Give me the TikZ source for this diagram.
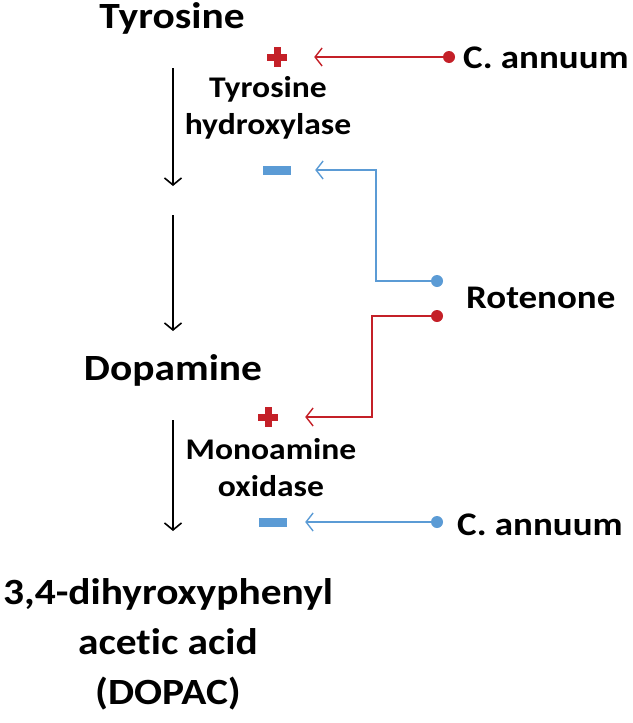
\documentclass[tikz,border=0pt]{standalone}
\usepackage{fontspec}
\setmainfont[FakeStretch=1.12, Ligatures=NoCommon]{Carlito}
\usetikzlibrary{arrows.meta}
\definecolor{cred}{RGB}{196,32,40}
\definecolor{cblue}{RGB}{91,155,213}
\tikzset{
  bigtxt/.style={font=\bfseries\fontsize{37}{50}\selectfont, align=center, inner sep=0pt, anchor=base},
  smalltxt/.style={font=\bfseries\fontsize{30}{37}\selectfont, align=center, inner sep=0pt, anchor=base},
  sidetxt/.style={font=\bfseries\fontsize{33}{40}\selectfont, inner sep=0pt, anchor=base west},
  pathway/.style={draw=black, line width=1.6pt, -{Straight Barb[length=7pt,width=17pt,line width=1.6pt]}},
  regarrow/.style={line width=1.4pt, -{Straight Barb[length=7pt,width=18pt,line width=1.4pt]}},
  dotnode/.style={circle, fill=#1, minimum size=12pt, inner sep=0pt},
  plussign/.style={minimum width=20pt, minimum height=20pt, inner sep=0pt,
    path picture={
      \fill[cred] ([xshift=-10pt,yshift=-3.5pt]path picture bounding box.center) rectangle ++(20pt,7pt);
      \fill[cred] ([xshift=-3.5pt,yshift=-10pt]path picture bounding box.center) rectangle ++(7pt,20pt);
    }},
  minussign/.style={fill=cblue, minimum width=28pt, minimum height=9pt, inner sep=0pt}
}
\begin{document}
\begin{tikzpicture}[x=1pt,y=-1pt]
\useasboundingbox (0,0) rectangle (632,723);
% metabolites
\node[bigtxt] (tyr) at (172,28) {Tyrosine};
\node[bigtxt] (dop) at (173,380) {Dopamine};
\node[bigtxt, anchor=north] (dopac) at (168,578) {3,4-dihyroxyphenyl\\acetic acid\\(DOPAC)};
% enzymes
\node[smalltxt, anchor=north] (th) at (268,76) {Tyrosine\\hydroxylase};
\node[smalltxt, anchor=north] (mao) at (271,438) {Monoamine\\oxidase};
% pathway arrows
\coordinate (a1s) at (173,68);  \coordinate (a1e) at (173,186);
\coordinate (a2s) at (173,215); \coordinate (a2e) at (173,331);
\coordinate (a3s) at (173,420); \coordinate (a3e) at (173,531);
\draw[pathway] (a1s) -- (a1e);
\draw[pathway] (a2s) -- (a2e);
\draw[pathway] (a3s) -- (a3e);
% signs
\node[plussign] (p1) at (277,57) {};
\node[minussign] (m1) at (277,170) {};
\node[plussign] (p2) at (268,417) {};
\node[minussign] (m2) at (273,522) {};
% regulators
\node[sidetxt] (ca1) at (463,68) {C. annuum};
\node[sidetxt] (rot) at (466,308) {Rotenone};
\node[sidetxt] (ca2) at (457,535) {C. annuum};
\node[dotnode=cred] (d1) at (449,57) {};
\node[dotnode=cblue] (d2) at (437,281) {};
\node[dotnode=cred] (d3) at (437,316) {};
\node[dotnode=cblue] (d4) at (437,522) {};
% regulation connectors
\draw[regarrow, draw=cred] (d1.center) -- ([xshift=27pt]p1.east);
\draw[regarrow, draw=cblue] (d2.center) -| (376,170) -- ([xshift=24pt]m1.east);
\draw[regarrow, draw=cred] (d3.center) -| (372,417) -- ([xshift=27pt]p2.east);
\draw[regarrow, draw=cblue] (d4.center) -- ([xshift=18pt]m2.east);
\end{tikzpicture}
\end{document}
